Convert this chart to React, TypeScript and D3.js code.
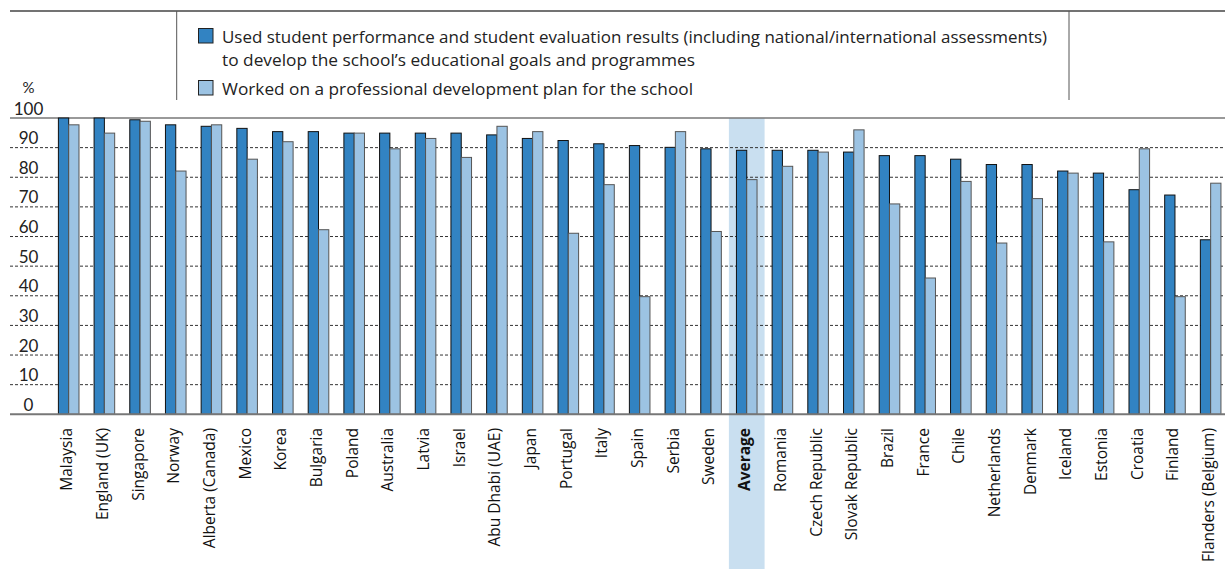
import React from "react";
import * as d3 from "d3";

const categories = [
  "Malaysia", "England (UK)", "Singapore", "Norway", "Alberta (Canada)", "Mexico", "Korea",
  "Bulgaria", "Poland", "Australia", "Latvia", "Israel", "Abu Dhabi (UAE)", "Japan", "Portugal",
  "Italy", "Spain", "Serbia", "Sweden", "Average", "Romania", "Czech Republic", "Slovak Republic",
  "Brazil", "France", "Chile", "Netherlands", "Denmark", "Iceland", "Estonia", "Croatia", "Finland",
  "Flanders (Belgium)",
];

const usedResults = [
  100, 100, 99.4, 97.7, 97.2, 96.5, 95.4, 95.4, 94.9, 94.9, 94.9, 94.9, 94.3, 93.1, 92.4, 91.3,
  90.7, 90.1, 89.6, 89.1, 89.1, 89.1, 88.5, 87.3, 87.3, 86.1, 84.3, 84.3, 82.1, 81.4, 75.8, 74.0, 58.9,
];

const devPlan = [
  97.7, 94.9, 98.9, 82.1, 97.7, 86.1, 92.0, 62.3, 94.9, 89.6, 93.1, 86.7, 97.2, 95.4, 61.1, 77.5,
  39.7, 95.4, 61.7, 79.2, 83.7, 88.5, 96.0, 71.0, 46.0, 78.6, 57.8, 72.8, 81.4, 58.2, 89.6, 39.7, 78.0,
];

const seriesKeys = ["used", "plan"];
const legendLines = [
  ["Used student performance and student evaluation results (including national/international assessments)",
   "to develop the school\u2019s educational goals and programmes"],
  ["Worked on a professional development plan for the school"],
];
const legendWidths = [[825, 473], [471]];
const yTicks = [0, 10, 20, 30, 40, 50, 60, 70, 80, 90, 100];
const highlight = "Average";

const W = 1225;
const H = 569;
const FONT = "'Open Sans', Lato, sans-serif";
const DARK = "#3283c2";
const LIGHT = "#9cc3e3";
const BAND = "#c9dff0";

export default function App() {
  const y = d3.scaleLinear().domain([0, 100]).range([414.3, 118]);
  const x = d3.scaleBand<string>().domain(categories).range([50.85, 1228.5]).paddingInner(0.423).paddingOuter(0.2115);
  const xi = d3.scaleBand<string>().domain(seriesKeys).range([0, x.bandwidth()]);
  const step = x.step();
  const colors = d3.scaleOrdinal<string, string>().domain(seriesKeys).range([DARK, LIGHT]);
  const strokes = d3.scaleOrdinal<string, string>().domain(seriesKeys).range(["#111", "#555"]);
  const values: Record<string, number[]> = { used: usedResults, plan: devPlan };

  const hx = (x(highlight) as number) + x.bandwidth() / 2 - step / 2;

  return (
    <svg width={W} height={H} style={{ position: "absolute", left: 0, top: 0, background: "#fff" }} fontFamily={FONT}>
      {/* header frame */}
      <line x1={10} x2={W} y1={11} y2={11} stroke="#444" strokeWidth={1.5} />
      <line x1={176.7} x2={176.7} y1={11} y2={100} stroke="#555" strokeWidth={1} />
      <line x1={1069} x2={1069} y1={11} y2={100} stroke="#555" strokeWidth={1} />

      {/* legend */}
      {legendLines.map((lines, i) => {
        const top = i === 0 ? 28.5 : 80.5;
        return (
          <g key={i}>
            <rect x={198.5} y={top} width={14.5} height={14.5} fill={colors(seriesKeys[i])} stroke="#222" strokeWidth={1} />
            {lines.map((t, j) => (
              <text key={j} x={222} y={top + 14.5 + j * 22.5} fontSize={17} fill="#222"
                textLength={legendWidths[i][j]} lengthAdjust="spacingAndGlyphs">{t}</text>
            ))}
          </g>
        );
      })}

      {/* highlight band */}
      <rect x={hx} y={y(100)} width={step} height={H - y(100)} fill={BAND} />

      {/* gridlines */}
      {yTicks.filter((t) => t > 0 && t < 100).map((t) => (
        <line key={t} x1={10} x2={W} y1={y(t)} y2={y(t)} stroke="#333" strokeWidth={1} strokeDasharray="3,2" />
      ))}
      <line x1={10} x2={W} y1={y(100)} y2={y(100)} stroke="#777" strokeWidth={1.5} />

      {/* y tick labels */}
      <text x={28.5} y={93} fontSize={15} textAnchor="middle" fill="#222" fontFamily="Lato, sans-serif">%</text>
      {yTicks.map((t) => (
        <text key={t} x={28.5} y={y(t) - 3.5} fontSize={17} textAnchor="middle" fill="#222" fontFamily="Lato, sans-serif">{t}</text>
      ))}

      {/* bars */}
      {categories.map((c, ci) => (
        <g key={c} transform={`translate(${x(c)},0)`}>
          {seriesKeys.map((k) => {
            const v = values[k][ci];
            return (
              <rect key={k} x={xi(k)} y={y(v)} width={xi.bandwidth()} height={y(0) - y(v)}
                fill={colors(k)} stroke={strokes(k)} strokeWidth={1} />
            );
          })}
        </g>
      ))}

      {/* baseline */}
      <line x1={10} x2={W} y1={y(0)} y2={y(0)} stroke="#777" strokeWidth={2} />

      {/* category labels */}
      {categories.map((c) => {
        const cx = (x(c) as number) + x.bandwidth() / 2 - 2;
        return (
          <text key={c} transform={`translate(${cx},428) rotate(-90)`} textAnchor="end" dy="0.35em"
            fontSize={15.5} fontWeight={c === highlight ? 700 : 500} fill="#111">{c}</text>
        );
      })}
    </svg>
  );
}
